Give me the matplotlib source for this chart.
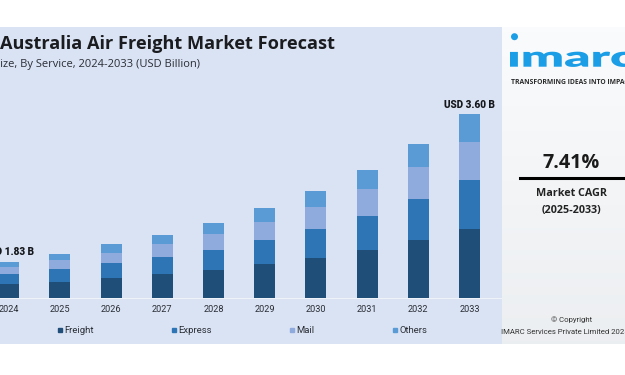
import matplotlib
matplotlib.use("Agg")
import matplotlib.pyplot as plt
import numpy as np
from matplotlib.lines import Line2D
from matplotlib.textpath import TextPath
from matplotlib.patches import PathPatch, Ellipse
from matplotlib.font_manager import FontProperties
import matplotlib.transforms as mtransforms

# ---------------- data (USD Billion, visible stacked segments above axis floor) -------------
years = ['2024', '2025', '2026', '2027', '2028', '2029', '2030', '2031', '2032', '2033']
freight = [0.161, 0.192, 0.240, 0.280, 0.328, 0.400, 0.480, 0.576, 0.693, 0.828]
express = [0.120, 0.149, 0.175, 0.209, 0.240, 0.288, 0.340, 0.403, 0.492, 0.585]
mail = [0.091, 0.112, 0.125, 0.156, 0.200, 0.224, 0.268, 0.321, 0.388, 0.460]
others = [0.060, 0.076, 0.103, 0.112, 0.127, 0.160, 0.197, 0.236, 0.269, 0.329]
series_names = ['Freight', 'Express', 'Mail', 'Others']
axis_floor = 1.40
end_labels = {0: 'USD 1.83 B', 9: 'USD 3.60 B'}
title = 'Australia Air Freight Market Forecast'
subtitle = 'Market Size, By Service, 2024-2033 (USD Billion)'
cagr_value = '7.41%'

colors = ['#1f4e79', '#2e75b6', '#8faadc', '#5b9bd5']
panel_color = '#dae3f3'

W, H = 625, 375
fig = plt.figure(figsize=(6.25, 3.75), dpi=100)
fig.patch.set_facecolor('white')
renderer = fig.canvas.get_renderer()

def fy(y):
    return 1 - y / H

def text_w(text, size, **kw):
    t = fig.text(0, 0, text, fontsize=size, **kw)
    w = t.get_window_extent(renderer).width
    t.remove()
    return w

def fit_size(text, target_w, **kw):
    return 10 * target_w / text_w(text, 10, **kw)

# ---------------- main chart axes ----------------
px_per_unit = 83.3
baseline_px = 297.7
ax = fig.add_axes([0, fy(344), 502 / W, (344 - 27) / H])
ax.set_facecolor(panel_color)
for s in ax.spines.values():
    s.set_visible(False)
ax.set_xticks([])
ax.set_yticks([])
spacing = 51.2
ax.set_xlim(-8.6 / spacing, (502 - 8.6) / spacing)
ax.set_ylim(axis_floor - (344 - baseline_px) / px_per_unit,
            axis_floor + (baseline_px - 27) / px_per_unit)

x = np.arange(len(years))
bottom = np.full(len(years), axis_floor)
for vals, c in zip([freight, express, mail, others], colors):
    ax.bar(x, vals, width=21 / spacing, bottom=bottom, color=c, zorder=3)
    bottom = bottom + np.array(vals)

ax.axhline(axis_floor, color='#eef2f9', lw=0.8, zorder=2)

lab_fs = fit_size('USD 3.60 B', 51.6, family='Roboto', weight='black')
for i, lab in end_labels.items():
    ax.text(i, bottom[i] + 9.5 / px_per_unit, lab, ha='center', va='center',
            fontsize=lab_fs, family='Roboto', weight='black', color='#15171c', zorder=4)

yr_fs = fit_size('2033', 20.5, family='Roboto')
for i, yr in enumerate(years):
    ax.text(i, axis_floor - 11.6 / px_per_unit, yr, ha='center', va='center',
            fontsize=yr_fs, family='Roboto', color='#2a2e36')

# legend
leg_fs = yr_fs * 1.03
fs_px = leg_fs * 100 / 72
marker_px = 4.5
gap_px = 2.5
marker_centers = [59.7, 173.0, 291.3, 394.7]
widths = [text_w(n, leg_fs, family='Roboto') for n in series_names]
col_gaps = [marker_centers[k + 1] - marker_centers[k] - (marker_px + gap_px + widths[k])
            for k in range(3)]
col_sp = float(np.mean(col_gaps))
handles = [Line2D([], [], marker='s', ls='none', color=c, markersize=marker_px * 72 / 100)
           for c in colors]
fig.legend(handles, series_names, loc='center left',
           bbox_to_anchor=((marker_centers[0] - marker_px / 2) / W, fy(330.7)), ncol=4,
           frameon=False, prop=FontProperties(family='Roboto', size=leg_fs),
           handlelength=marker_px / fs_px, handletextpad=gap_px / fs_px,
           columnspacing=col_sp / fs_px, borderpad=0, borderaxespad=0,
           labelcolor='#2a2e36')

# title & subtitle
t_fs = fit_size(title, 335, family='Open Sans', weight='bold')
fig.text(0, fy(44), title, ha='left', va='center', fontsize=t_fs,
         family='Open Sans', weight='bold', color='#1a1c20')
s_fs = fit_size('ize, By Service, 2024-2033 (USD Billion)', 200, family='Open Sans')
fig.text(200 / W, fy(65), subtitle, ha='right', va='center', fontsize=s_fs,
         family='Open Sans', color='#2a2e36')

# ---------------- right panel ----------------
rp = fig.add_axes([502 / W, fy(344), 123 / W, (344 - 27) / H])
grad = np.linspace(0, 1, 200)[:, None]
c1 = np.array([0.98, 0.985, 0.99])
c2 = np.array([0.925, 0.935, 0.945])
img = c1[None, None, :] * (1 - grad[:, :, None]) + c2[None, None, :] * grad[:, :, None]
img = np.repeat(img, 10, axis=1)
rp.imshow(img, aspect='auto', extent=[0, 1, 0, 1])
rp.axis('off')

# imarc logo
fp = FontProperties(family='Lato', weight='heavy')
tp_full = TextPath((0, 0), '\u0131marc', size=20, prop=fp)
tp_imar = TextPath((0, 0), '\u0131mar', size=20, prop=fp)
tp_m = TextPath((0, 0), 'm', size=20, prop=fp)
e_imar = tp_imar.get_extents()
e_m = tp_m.get_extents()
sy = 15 / e_m.height
sx = 100 / e_imar.width
x0 = 510 - e_imar.x0 * sx
tr = (mtransforms.Affine2D().scale(sx, sy).translate(x0, H - 66.7).scale(1 / W, 1 / H)
      + fig.transFigure)
logo_color = '#1c9ee6'
fig.add_artist(PathPatch(tp_full, transform=tr, facecolor=logo_color, lw=0))
fig.add_artist(Ellipse((514.5 / W, fy(36.7)), 7 / W, 7 / H, transform=fig.transFigure,
                       facecolor=logo_color, lw=0))

tag_fs = fit_size('TRANSFORMING IDEAS INTO IMPA', 114, family='Open Sans', weight='bold')
fig.text(510.7 / W, fy(82.3), 'TRANSFORMING IDEAS INTO IMPACT', ha='left', va='center',
         fontsize=tag_fs, family='Open Sans', weight='bold', color='#2b2b2b')

c_fs = fit_size(cagr_value, 57, family='Open Sans', weight='bold')
fig.text(571.5 / W, fy(163.3), cagr_value, ha='center', va='center', fontsize=c_fs,
         family='Open Sans', weight='bold', color='#1a1a1a')
fig.add_artist(Line2D([520 / W, 623 / W], [fy(178.3), fy(178.3)], color='black', lw=2.2,
                      transform=fig.transFigure))
m_fs = fit_size('Market CAGR', 70.6, family='Open Sans', weight='bold')
fig.text(572 / W, fy(194), 'Market CAGR', ha='center', va='center', fontsize=m_fs,
         family='Open Sans', weight='bold', color='#222222')
fig.text(571 / W, fy(210), '(2025-2033)', ha='center', va='center', fontsize=m_fs,
         family='Open Sans', weight='bold', color='#222222')

cp_fs = fit_size('IMARC Services Private Limited 202', 124, family='Roboto')
fig.text(572 / W, fy(319.3), '\u00a9 Copyright', ha='center', va='center', fontsize=cp_fs,
         family='Roboto', color='#333333')
fig.text(501 / W, fy(332.3), 'IMARC Services Private Limited 2025', ha='left', va='center',
         fontsize=cp_fs, family='Roboto', color='#333333')

fig.savefig('out.png', dpi=100, facecolor='white')
